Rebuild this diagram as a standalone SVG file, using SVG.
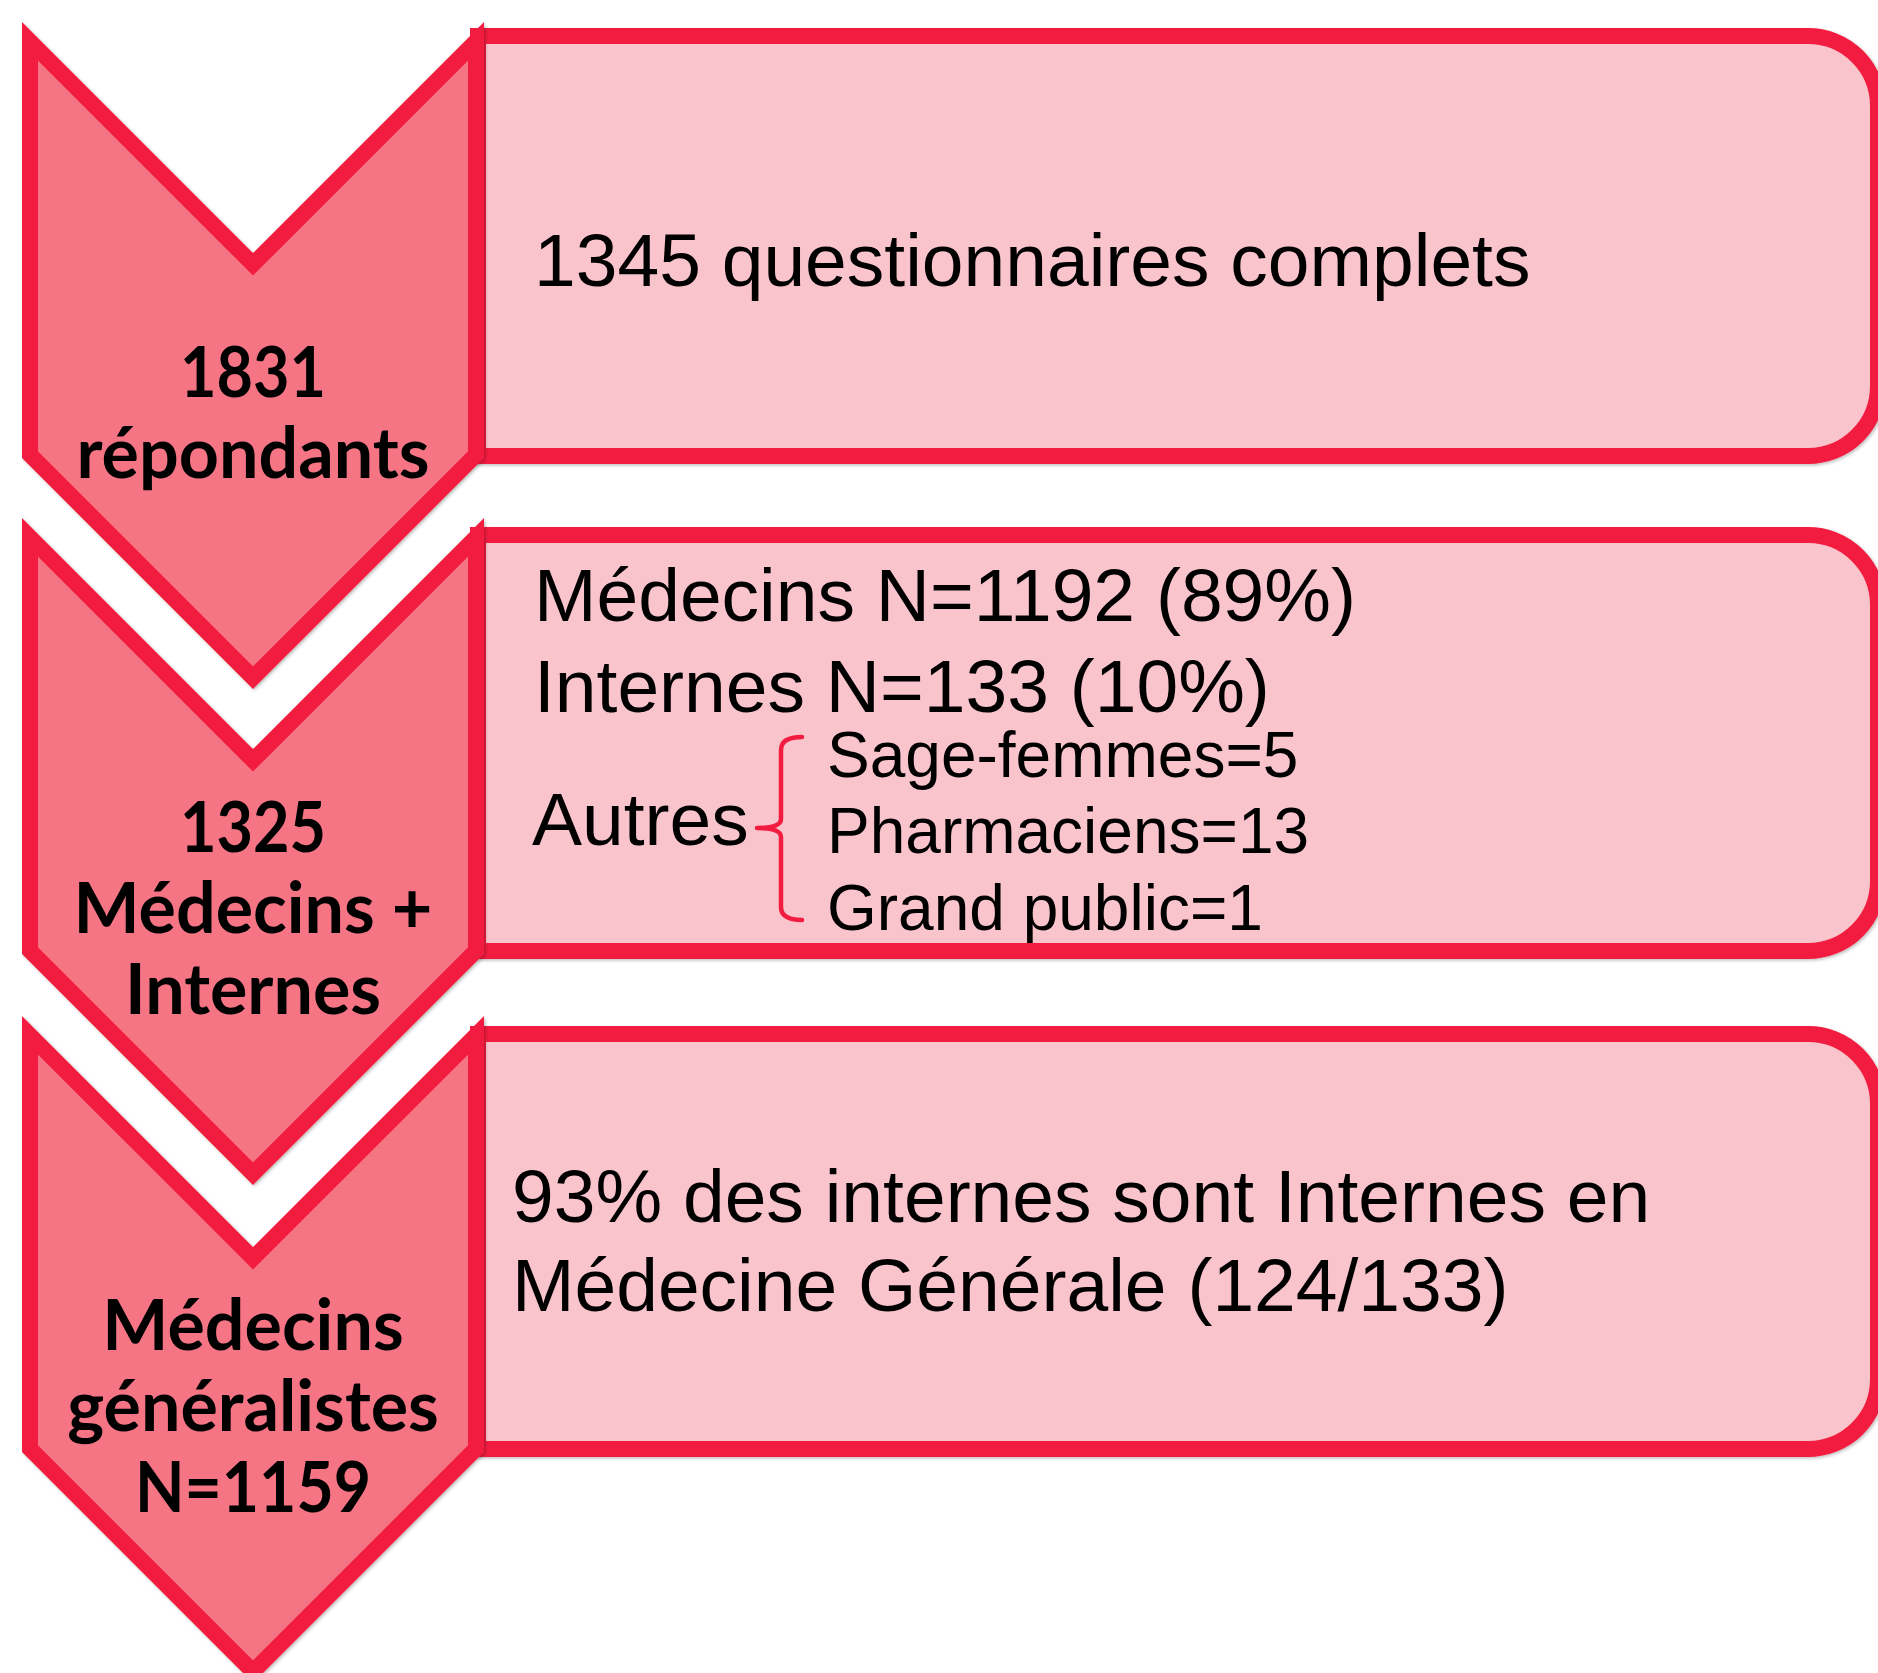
<svg xmlns="http://www.w3.org/2000/svg" width="1878" height="1673" viewBox="0 0 1878 1673">
  <defs>
    <filter id="sh" x="-5%" y="-5%" width="110%" height="110%">
      <feDropShadow dx="1.5" dy="1.5" stdDeviation="1.5" flood-color="#000" flood-opacity="0.25"/>
    </filter>
    <style>
      .box { fill: #F9C4CC; stroke: #F21F3F; stroke-width: 16; stroke-linejoin: miter; }
      .chev { fill: #F67585; stroke: #F21F3F; stroke-width: 16; stroke-linejoin: miter; stroke-miterlimit: 10; }
      .lbl { font-family: Lato, "Liberation Sans", sans-serif; font-weight: bold; font-size: 70px; fill: #000; text-anchor: middle; }
      .txt { font-family: "Liberation Sans", Arial, sans-serif; font-size: 75px; fill: #000; }
      .sub { font-family: "Liberation Sans", Arial, sans-serif; font-size: 64px; fill: #000; }
      .brace { fill: none; stroke: #F21F3F; stroke-width: 4.5; stroke-linecap: round; stroke-linejoin: round; }
    </style>
  </defs>
  <rect width="1878" height="1673" fill="#ffffff"/>

  <g id="box1" filter="url(#sh)">
    <path class="box" d="M478,36 H1808 A70,70 0 0 1 1878,106 V386 A70,70 0 0 1 1808,456 H478 Z"/>
    <text class="txt" x="534" y="286">1345 questionnaires complets</text>
  </g>

  <g id="box2" filter="url(#sh)">
    <path class="box" d="M478,535 H1808 A70,70 0 0 1 1878,605 V881 A70,70 0 0 1 1808,951 H478 Z"/>
    <text class="txt" x="534" y="621">Médecins N=1192 (89%)</text>
    <text class="txt" x="534" y="712">Internes N=133 (10%)</text>
    <text class="txt" x="532" y="845">Autres</text>
    <path class="brace" d="M802,737 Q781,737 781,750 L781,819 Q781,828 757,828 Q781,828 781,837 L781,907 Q781,920 802,920"/>
    <text class="sub" x="827" y="777">Sage-femmes=5</text>
    <text class="sub" x="827" y="853">Pharmaciens=13</text>
    <text class="sub" x="827" y="930">Grand public=1</text>
  </g>

  <g id="box3" filter="url(#sh)">
    <path class="box" d="M478,1034 H1808 A70,70 0 0 1 1878,1104 V1379 A70,70 0 0 1 1808,1449 H478 Z"/>
    <text class="txt" x="512" y="1222">93% des internes sont Internes en</text>
    <text class="txt" x="512" y="1311">Médecine Générale (124/133)</text>
  </g>

  <g id="chevron1" filter="url(#sh)">
    <polygon class="chev" points="30,41.3 253,264.3 476,41.3 476,454.7 253,677.7 30,454.7"/>
    <text class="lbl" x="253" y="397" textLength="146" lengthAdjust="spacingAndGlyphs">1831</text>
    <text class="lbl" x="253" y="478">répondants</text>
  </g>

  <g id="chevron2" filter="url(#sh)">
    <polygon class="chev" points="30,537.3 253,760.3 476,537.3 476,950.7 253,1173.7 30,950.7"/>
    <text class="lbl" x="253" y="852" textLength="146" lengthAdjust="spacingAndGlyphs">1325</text>
    <text class="lbl" x="253" y="933">Médecins +</text>
    <text class="lbl" x="253" y="1014">Internes</text>
  </g>

  <g id="chevron3" filter="url(#sh)">
    <polygon class="chev" points="30,1035.3 253,1258.3 476,1035.3 476,1448.7 253,1671.7 30,1448.7"/>
    <text class="lbl" x="253" y="1350">Médecins</text>
    <text class="lbl" x="253" y="1431">généralistes</text>
    <text class="lbl" x="253" y="1512" textLength="236" lengthAdjust="spacingAndGlyphs">N=1159</text>
  </g>

  <g id="connectors"></g>
</svg>
